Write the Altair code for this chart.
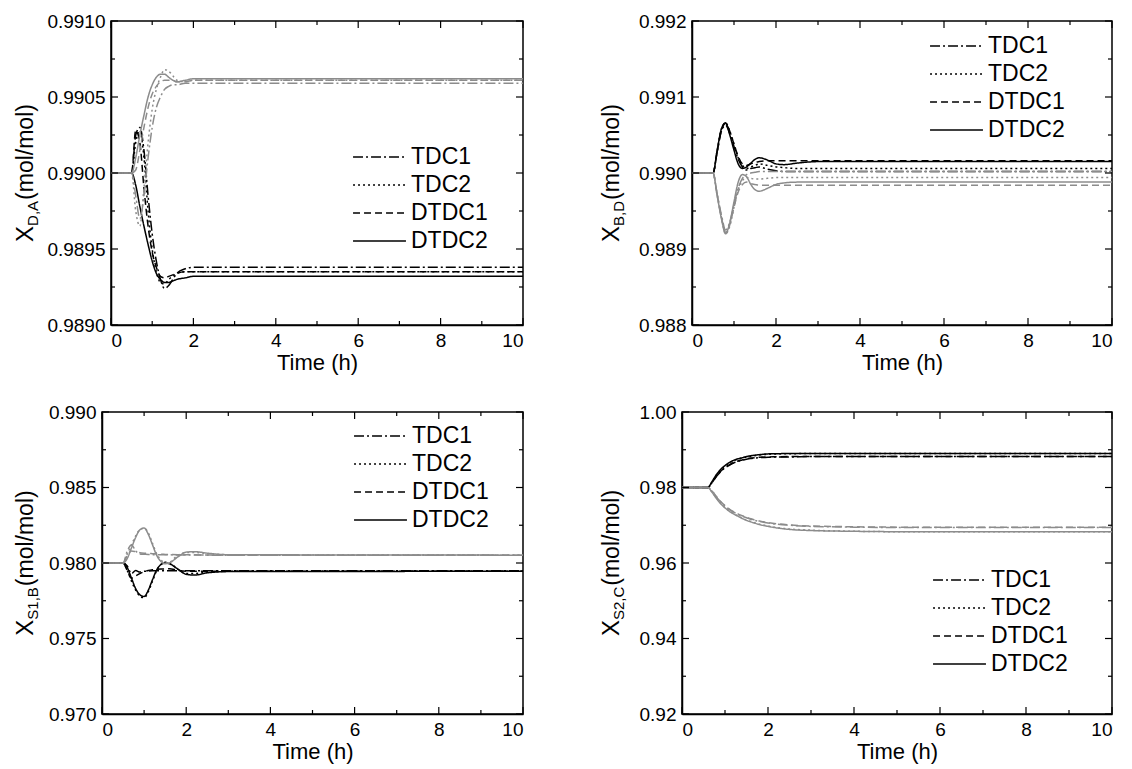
import altair as alt
import pandas as pd

FONT = "Liberation Sans"
CTRL = ["TDC1", "TDC2", "DTDC1", "DTDC2"]
DASH = [[10, 3, 2, 3], [2, 3], [7, 4], [1, 0]]
BLACK = "#000000"
GRAY = "#8c8c8c"

X_TICKS = [0, 2, 4, 6, 8, 10]
X_MINOR = [1, 3, 5, 7, 9]

# time grids (h)
T_A = [0, 0.5, 0.6, 0.7, 0.8, 0.9, 1.0, 1.1, 1.2, 1.3, 1.4, 1.5, 1.6, 1.8, 2.0, 2.2, 2.5, 3.0, 10]
T_B = [0, 0.5, 0.6, 0.7, 0.8, 0.9, 1.0, 1.1, 1.2, 1.3, 1.4, 1.5, 1.6, 1.8, 2.0, 2.2, 2.5, 3.0, 4.0, 5.0, 10]

# ---- Panel 1: X_D,A ----
P1_BLACK = [
    [0.99000, 0.99000, 0.99025, 0.99030, 0.99015, 0.98985, 0.98960, 0.98942, 0.98930, 0.98924, 0.98926, 0.98930, 0.98934, 0.98937, 0.98938, 0.98938, 0.98938, 0.98938, 0.98938],
    [0.99000, 0.99000, 0.99020, 0.99028, 0.99010, 0.98975, 0.98950, 0.98935, 0.98928, 0.98927, 0.98930, 0.98932, 0.98934, 0.98935, 0.98935, 0.98935, 0.98935, 0.98935, 0.98935],
    [0.99000, 0.99000, 0.99028, 0.99020, 0.98990, 0.98965, 0.98948, 0.98938, 0.98932, 0.98931, 0.98932, 0.98933, 0.98934, 0.98935, 0.98935, 0.98935, 0.98935, 0.98935, 0.98935],
    [0.99000, 0.99000, 0.98992, 0.98978, 0.98965, 0.98953, 0.98942, 0.98934, 0.98930, 0.98928, 0.98928, 0.98929, 0.98930, 0.98931, 0.98932, 0.98932, 0.98932, 0.98932, 0.98932],
]
P1_GRAY = [
    [0.99000, 0.99000, 0.98985, 0.98970, 0.98985, 0.99010, 0.99030, 0.99043, 0.99050, 0.99055, 0.99057, 0.99058, 0.99058, 0.99059, 0.99059, 0.99059, 0.99059, 0.99059, 0.99059],
    [0.99000, 0.99000, 0.98975, 0.98965, 0.98990, 0.99020, 0.99042, 0.99055, 0.99063, 0.99068, 0.99067, 0.99064, 0.99061, 0.99060, 0.99061, 0.99061, 0.99061, 0.99061, 0.99061],
    [0.99000, 0.99000, 0.99002, 0.99015, 0.99030, 0.99043, 0.99052, 0.99057, 0.99060, 0.99061, 0.99061, 0.99061, 0.99060, 0.99060, 0.99061, 0.99061, 0.99061, 0.99061, 0.99061],
    [0.99000, 0.99000, 0.99010, 0.99025, 0.99038, 0.99050, 0.99058, 0.99063, 0.99065, 0.99065, 0.99063, 0.99061, 0.99060, 0.99061, 0.99062, 0.99062, 0.99062, 0.99062, 0.99062],
]
P1_YTICKS = [0.9890, 0.9895, 0.9900, 0.9905, 0.9910]
P1_YMINOR = [0.98925, 0.98975, 0.99025, 0.99075]

# ---- Panel 2: X_B,D ----
P2_BLACK = [
    [0.99000, 0.99000, 0.99028, 0.99055, 0.99063, 0.99052, 0.99035, 0.99018, 0.99008, 0.99004, 0.99006, 0.99007, 0.99008, 0.99005, 0.99003, 0.99002, 0.99002, 0.99002, 0.99002],
    [0.99000, 0.99000, 0.99030, 0.99058, 0.99066, 0.99055, 0.99038, 0.99020, 0.99010, 0.99006, 0.99008, 0.99010, 0.99012, 0.99010, 0.99008, 0.99007, 0.99006, 0.99006, 0.99006],
    [0.99000, 0.99000, 0.99028, 0.99056, 0.99065, 0.99055, 0.99038, 0.99022, 0.99012, 0.99010, 0.99012, 0.99014, 0.99015, 0.99016, 0.99016, 0.99016, 0.99016, 0.99016, 0.99016],
    [0.99000, 0.99000, 0.99030, 0.99058, 0.99066, 0.99050, 0.99030, 0.99012, 0.99006, 0.99008, 0.99013, 0.99018, 0.99020, 0.99017, 0.99012, 0.99011, 0.99013, 0.99015, 0.99015],
]
P2_GRAY = [
    [0.99000, 0.99000, 0.98972, 0.98945, 0.98925, 0.98935, 0.98958, 0.98980, 0.98993, 0.98998, 0.99000, 0.99001, 0.99002, 0.99002, 0.99002, 0.99002, 0.99002, 0.99002, 0.99002],
    [0.99000, 0.99000, 0.98970, 0.98942, 0.98920, 0.98930, 0.98955, 0.98978, 0.98990, 0.98994, 0.98993, 0.98992, 0.98992, 0.98993, 0.98994, 0.98994, 0.98994, 0.98994, 0.98994],
    [0.99000, 0.99000, 0.98972, 0.98942, 0.98922, 0.98932, 0.98955, 0.98975, 0.98985, 0.98988, 0.98986, 0.98985, 0.98984, 0.98984, 0.98984, 0.98984, 0.98984, 0.98984, 0.98984],
    [0.99000, 0.99000, 0.98970, 0.98940, 0.98920, 0.98935, 0.98962, 0.98988, 0.98998, 0.98995, 0.98985, 0.98978, 0.98976, 0.98980, 0.98985, 0.98987, 0.98988, 0.98988, 0.98988],
]
P2_YTICKS = [0.988, 0.989, 0.990, 0.991, 0.992]
P2_YMINOR = [0.9885, 0.9895, 0.9905, 0.9915]

# ---- Panel 3: X_S1,B ----
P3_BLACK = [
    [0.98, 0.98, 0.9798, 0.9793, 0.9795, 0.9794, 0.97945, 0.97947, 0.97948, 0.97948, 0.97948, 0.97948, 0.97948, 0.97948, 0.97948, 0.97948, 0.97948, 0.97948, 0.97948],
    [0.98, 0.98, 0.9795, 0.9788, 0.9782, 0.9778, 0.9777, 0.9781, 0.9788, 0.9795, 0.9799, 0.98005, 0.9800, 0.9796, 0.9793, 0.9793, 0.9794, 0.97945, 0.97945],
    [0.98, 0.98, 0.9795, 0.9790, 0.97915, 0.9793, 0.97942, 0.97950, 0.97955, 0.97958, 0.97960, 0.97961, 0.97962, 0.97952, 0.97946, 0.97945, 0.97945, 0.97945, 0.97945],
    [0.98, 0.98, 0.9797, 0.9790, 0.9783, 0.9779, 0.97778, 0.9782, 0.9789, 0.97955, 0.97990, 0.98000, 0.97995, 0.97960, 0.97925, 0.97920, 0.97935, 0.97943, 0.97945],
]
P3_GRAY = [
    [0.98, 0.98, 0.9808, 0.9812, 0.9808, 0.9806, 0.98058, 0.98056, 0.98055, 0.98055, 0.98054, 0.98054, 0.98054, 0.98053, 0.98053, 0.98053, 0.98052, 0.98052, 0.98052],
    [0.98, 0.98, 0.9806, 0.9812, 0.9818, 0.9822, 0.9823, 0.9820, 0.9813, 0.9806, 0.9802, 0.9800, 0.98005, 0.9805, 0.9807, 0.9807, 0.98062, 0.98055, 0.98052],
    [0.98, 0.98, 0.9805, 0.9808, 0.98075, 0.98068, 0.98065, 0.98064, 0.98062, 0.98060, 0.98058, 0.98057, 0.98056, 0.98055, 0.98055, 0.98054, 0.98053, 0.98052, 0.98052],
    [0.98, 0.98, 0.9803, 0.9810, 0.9817, 0.9822, 0.98232, 0.9819, 0.9812, 0.9805, 0.9801, 0.97995, 0.9800, 0.9804, 0.98072, 0.98075, 0.98065, 0.98055, 0.98052],
]
P3_YTICKS = [0.970, 0.975, 0.980, 0.985, 0.990]
P3_YMINOR = [0.9725, 0.9775, 0.9825, 0.9875]

# ---- Panel 4: X_S2,C ----
P4_BLACK = [
    [0.98, 0.98, 0.98, 0.9813, 0.9829, 0.9842, 0.9852, 0.9859, 0.9865, 0.9869, 0.9872, 0.9875, 0.9877, 0.9879, 0.9880, 0.9881, 0.9881, 0.9882, 0.9882, 0.9882, 0.9882],
    [0.98, 0.98, 0.98, 0.9815, 0.9833, 0.9847, 0.9857, 0.9865, 0.9871, 0.9875, 0.9878, 0.9881, 0.9883, 0.9886, 0.9888, 0.9889, 0.98895, 0.9890, 0.9890, 0.9890, 0.9890],
    [0.98, 0.98, 0.98, 0.9813, 0.9830, 0.9843, 0.9853, 0.9860, 0.9866, 0.9870, 0.9873, 0.9876, 0.9878, 0.9880, 0.9881, 0.98815, 0.9882, 0.9882, 0.9882, 0.9882, 0.9882],
    [0.98, 0.98, 0.98, 0.9816, 0.9834, 0.9848, 0.9858, 0.9866, 0.9872, 0.9876, 0.9879, 0.9882, 0.9884, 0.9887, 0.9889, 0.98895, 0.9890, 0.9890, 0.9890, 0.9890, 0.9890],
]
P4_GRAY = [
    [0.98, 0.98, 0.98, 0.9790, 0.9775, 0.9762, 0.9751, 0.9742, 0.9735, 0.9729, 0.9724, 0.9720, 0.9716, 0.9710, 0.9706, 0.9703, 0.9700, 0.9697, 0.9695, 0.9694, 0.9694],
    [0.98, 0.98, 0.98, 0.9788, 0.9772, 0.9758, 0.9747, 0.9738, 0.9731, 0.9725, 0.9719, 0.9714, 0.9710, 0.9703, 0.9698, 0.9694, 0.9690, 0.9687, 0.9684, 0.9683, 0.9683],
    [0.98, 0.98, 0.98, 0.9791, 0.9776, 0.9763, 0.9752, 0.9743, 0.9736, 0.9730, 0.9725, 0.9721, 0.9717, 0.9711, 0.9707, 0.9704, 0.9701, 0.9698, 0.9696, 0.9695, 0.9695],
    [0.98, 0.98, 0.98, 0.9787, 0.9771, 0.9757, 0.9746, 0.9737, 0.9730, 0.9724, 0.9718, 0.9713, 0.9709, 0.9702, 0.9697, 0.9693, 0.9689, 0.9686, 0.9684, 0.9683, 0.9683],
]
P4_YTICKS = [0.92, 0.94, 0.96, 0.98, 1.00]
P4_YMINOR = [0.93, 0.95, 0.97, 0.99]

# approximate Arial advance widths (per 1000 em) for title layout
CW = {"X": 667, "D": 722, "A": 667, ",": 278, "B": 667, "S": 667, "1": 556, "2": 556,
      "C": 722, "(": 333, "m": 833, "o": 556, "l": 222, "/": 278, ")": 333}


def text_w(s, size):
    return sum(CW.get(ch, 556) for ch in s) * size / 1000.0


def panel(T, black, gray, yticks, yminor, fmt, W, H, sub, leg_x, leg_y, title_x):
    rows = []
    for dist, series in (("b", black), ("g", gray)):
        for ctrl, vals in zip(CTRL, series):
            for t, v in zip(T, vals):
                rows.append({"t": t, "v": v, "ctrl": ctrl, "dist": dist})
    df = pd.DataFrame(rows)

    xs = alt.Scale(domain=[X_TICKS[0], X_TICKS[-1]], nice=False)
    ys = alt.Scale(domain=[yticks[0], yticks[-1]], nice=False, zero=False)
    xax = alt.Axis(values=X_TICKS, title="Time (h)", format="d")
    yax = alt.Axis(values=yticks, format=fmt, title=None)

    lines = alt.Chart(df).mark_line(strokeWidth=1.5, interpolate="monotone").encode(
        x=alt.X("t:Q", scale=xs, axis=xax),
        y=alt.Y("v:Q", scale=ys, axis=yax),
        color=alt.Color("dist:N", scale=alt.Scale(domain=["b", "g"], range=[BLACK, GRAY]), legend=None),
        strokeDash=alt.StrokeDash(
            "ctrl:N",
            scale=alt.Scale(domain=CTRL, range=DASH),
            sort=CTRL,
            legend=alt.Legend(
                title=None, orient="none", legendX=leg_x, legendY=leg_y,
                symbolType="stroke", symbolSize=2800, symbolStrokeWidth=1.5,
                symbolStrokeColor=BLACK, clipHeight=26, rowPadding=2,
                labelFontSize=23, labelFont=FONT, labelColor=BLACK, labelOffset=4,
                labelLimit=200,
            ),
        ),
    )

    xmaj = pd.DataFrame({"t": X_TICKS})
    xmin = pd.DataFrame({"t": X_MINOR})
    ymaj = pd.DataFrame({"v": yticks})
    ymin = pd.DataFrame({"v": yminor})
    layers = [lines]
    for data, ln in ((xmaj, 7), (xmin, 4)):
        base = alt.Chart(data).mark_rule(color=BLACK, strokeWidth=1.2)
        layers.append(base.encode(x=alt.X("t:Q", scale=xs, axis=xax), y=alt.value(H), y2=alt.value(H - ln)))
        layers.append(base.encode(x=alt.X("t:Q", scale=xs, axis=xax), y=alt.value(0), y2=alt.value(ln)))
    for data, ln in ((ymaj, 7), (ymin, 4)):
        base = alt.Chart(data).mark_rule(color=BLACK, strokeWidth=1.2)
        layers.append(base.encode(y=alt.Y("v:Q", scale=ys, axis=yax), x=alt.value(0), x2=alt.value(ln)))
        layers.append(base.encode(y=alt.Y("v:Q", scale=ys, axis=yax), x=alt.value(W), x2=alt.value(W - ln)))

    # y-axis title with subscript: X_sub(mol/mol), rotated
    fx, fs, fr = 24, 15, 23
    rest = "(mol/mol)"
    total = text_w("X", fx) + text_w(sub, fs) + 1 + text_w(rest, fr)
    y0 = H / 2 + total / 2
    dummy = pd.DataFrame({"k": [0]})
    tkw = dict(angle=270, align="left", baseline="alphabetic", font=FONT, color=BLACK)
    layers.append(alt.Chart(dummy).mark_text(text="X", fontSize=fx, **tkw).encode(
        x=alt.value(title_x), y=alt.value(y0)))
    layers.append(alt.Chart(dummy).mark_text(text=sub, fontSize=fs, **tkw).encode(
        x=alt.value(title_x + 5), y=alt.value(y0 - text_w("X", fx))))
    layers.append(alt.Chart(dummy).mark_text(text=rest, fontSize=fr, **tkw).encode(
        x=alt.value(title_x), y=alt.value(y0 - text_w("X", fx) - text_w(sub, fs) - 1)))

    return alt.layer(*layers).properties(width=W, height=H).resolve_scale(
        strokeDash="independent", color="independent")


def spacer():
    return alt.Chart(pd.DataFrame({"k": [0]})).mark_point(opacity=0, size=1).encode(
        x=alt.value(0), y=alt.value(0)
    ).properties(width=1, height=1, view=alt.ViewBackground(strokeOpacity=0))


RES = dict(x="independent", y="independent", strokeDash="independent", color="independent")


def row(left, right):
    inner = alt.hconcat(spacer(), left, spacing=0).resolve_scale(**RES).resolve_legend(
        strokeDash="independent", color="independent")
    return alt.hconcat(inner, right, spacing=72).resolve_scale(**RES).resolve_legend(
        strokeDash="independent", color="independent")


p1 = panel(T_A, P1_BLACK, P1_GRAY, P1_YTICKS, P1_YMINOR, ".4f", 412, 304, "D,A", 241, 123, -78)
p2 = panel(T_A, P2_BLACK, P2_GRAY, P2_YTICKS, P2_YMINOR, ".3f", 420, 304, "B,D", 237, 12, -73)
p3 = panel(T_A, P3_BLACK, P3_GRAY, P3_YTICKS, P3_YMINOR, ".3f", 421, 302, "S1,B", 251, 11, -69)
p4 = panel(T_B, P4_BLACK, P4_GRAY, P4_YTICKS, P4_YMINOR, ".2f", 430, 302, "S2,C", 250, 155, -63)

chart = alt.vconcat(row(p1, p2), row(p3, p4), spacing=28).resolve_scale(**RES).resolve_legend(
    strokeDash="independent", color="independent"
).properties(
    padding={"left": 3, "top": 3, "right": 5, "bottom": 5},
    background="white",
).configure(font=FONT).configure_axis(
    labelFont=FONT, labelFontSize=19, labelColor=BLACK, labelPadding=6,
    titleFont=FONT, titleFontSize=22, titleFontWeight="normal", titleColor=BLACK, titlePadding=2,
    domainColor=BLACK, domainWidth=1.5, ticks=False, tickSize=0, grid=False,
).configure_view(stroke=BLACK, strokeWidth=1.5)

chart.save("out.html", embed_options={"renderer": "svg", "actions": False})
